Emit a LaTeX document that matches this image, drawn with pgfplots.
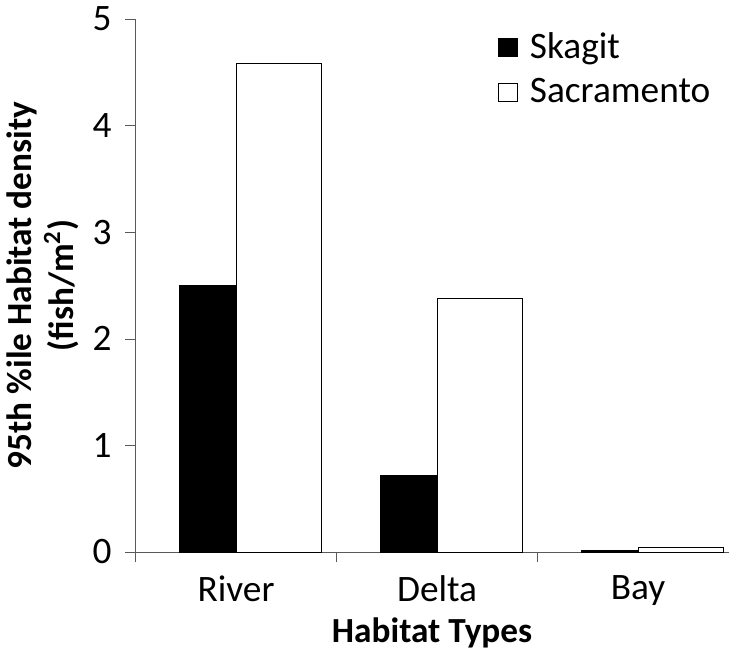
\documentclass[border=0pt]{standalone}
\usepackage{pgfplots}
\pgfplotsset{compat=1.18}
\usepackage{fontspec}
\setmainfont{Carlito}
\begin{document}
\begin{tikzpicture}
\begin{axis}[
  scale only axis, width=286pt, height=257pt,
  axis lines=left, axis line style={-, gray!70!black},
  xmin=-0.5, xmax=2.45, ymin=0, ymax=5,
  ytick={0,1,2,3,4,5},
  xtick={-0.5,0.5,1.5}, xticklabels={},
  major tick length=5pt, tick align=outside,
  tick style={gray!70!black},
  extra x ticks={0,1,2}, extra x tick labels={River,Delta,Bay},
  extra x tick style={major tick length=0pt, tick label style={yshift=-8pt}},
  tick label style={font=\fontsize{18}{20}\selectfont},
  yticklabel style={xshift=-3pt},
  /pgf/number format/assume math mode=true,
  xlabel={\textbf{Habitat Types}},
  ylabel={\textbf{95th \%ile Habitat density}\\\textbf{(fish/m\textsuperscript{2})}},
  ylabel style={align=center, font=\fontsize{17}{20}\selectfont},
  xlabel style={font=\fontsize{17}{20}\selectfont, yshift=6pt},
  legend style={draw=none, at={(0.6,0.99)}, anchor=north west, font=\fontsize{18}{21}\selectfont, row sep=4pt},
  legend cell align=left,
  clip=false,
]
\addplot[ybar, bar width=0.282, bar shift=-0.141, fill=black, draw=black,
  legend image code/.code={\draw[fill=black,draw=black] (0pt,-4.5pt) rectangle (9pt,4.5pt); \path (13pt,0pt);}]
  coordinates {(0,2.5) (1,0.72) (2,0.01)};
\addlegendentry{Skagit}
\addplot[ybar, bar width=0.426, bar shift=0.213, fill=white, draw=black,
  legend image code/.code={\draw[fill=white,draw=black] (0pt,-4.5pt) rectangle (9pt,4.5pt); \path (13pt,0pt);}]
  coordinates {(0,4.58) (1,2.38) (2,0.04)};
\addlegendentry{Sacramento}
\end{axis}
\end{tikzpicture}
\end{document}
